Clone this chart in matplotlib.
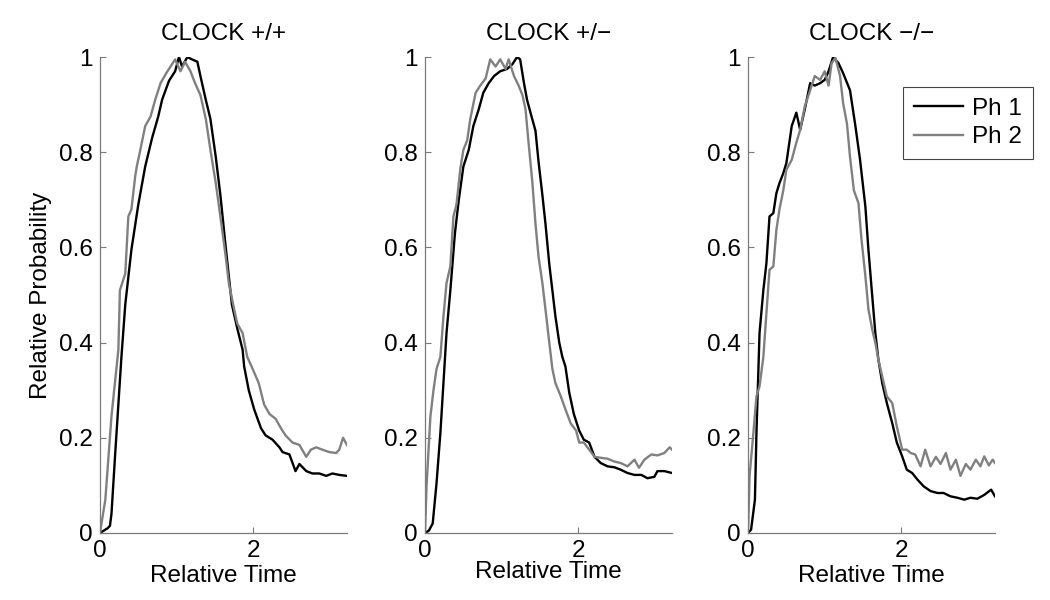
import matplotlib
matplotlib.use('Agg')
import matplotlib.pyplot as plt


titles = ['CLOCK +/+', 'CLOCK +/\u2212', 'CLOCK \u2212/\u2212']
series_names = ['Ph 1', 'Ph 2']

# CLOCK +/+
p1_ph1_x = [0, 0.05, 0.10, 0.13, 0.15, 0.20, 0.24, 0.28, 0.33, 0.41, 0.50, 0.59, 0.68, 0.76, 0.81,
            0.90, 0.98, 1.03, 1.07, 1.14, 1.20, 1.27, 1.31, 1.38, 1.44, 1.51, 1.57, 1.64, 1.68, 1.72,
            1.79, 1.86, 1.88, 1.94, 2.01, 2.10, 2.16, 2.25, 2.34, 2.38, 2.47, 2.55, 2.60, 2.69, 2.77,
            2.86, 2.95, 3.03, 3.12, 3.22]
p1_ph1_y = [0, 0.005, 0.01, 0.015, 0.04, 0.17, 0.27, 0.37, 0.48, 0.595, 0.69, 0.77, 0.83, 0.875, 0.91,
            0.95, 0.97, 1.0, 0.98, 1.0, 0.995, 0.99, 0.96, 0.91, 0.87, 0.79, 0.71, 0.60, 0.54, 0.48,
            0.43, 0.385, 0.35, 0.30, 0.26, 0.22, 0.205, 0.196, 0.18, 0.17, 0.165, 0.13, 0.145, 0.13, 0.125,
            0.125, 0.12, 0.125, 0.122, 0.12]
p1_ph2_x = [0, 0.07, 0.15, 0.24, 0.26, 0.33, 0.37, 0.41, 0.46, 0.48, 0.52, 0.59, 0.66, 0.72, 0.79,
            0.86, 0.92, 0.98, 1.05, 1.11, 1.18, 1.24, 1.31, 1.38, 1.44, 1.51, 1.57, 1.64, 1.68, 1.75,
            1.79, 1.86, 1.92, 1.99, 2.07, 2.14, 2.21, 2.29, 2.36, 2.42, 2.51, 2.60, 2.69, 2.75, 2.82,
            2.90, 2.99, 3.08, 3.12, 3.17, 3.22]
p1_ph2_y = [0, 0.07, 0.245, 0.385, 0.51, 0.545, 0.665, 0.68, 0.75, 0.77, 0.80, 0.855, 0.875, 0.91, 0.945,
            0.965, 0.98, 0.995, 0.97, 0.99, 0.97, 0.945, 0.92, 0.87, 0.805, 0.735, 0.665, 0.58, 0.525, 0.47,
            0.44, 0.42, 0.37, 0.345, 0.315, 0.27, 0.25, 0.24, 0.22, 0.205, 0.19, 0.185, 0.16, 0.175, 0.18,
            0.175, 0.17, 0.168, 0.175, 0.20, 0.185]

# CLOCK +/-
p2_ph1_x = [0, 0.05, 0.10, 0.15, 0.20, 0.24, 0.28, 0.33, 0.39, 0.44, 0.50, 0.57, 0.63, 0.70, 0.76,
            0.83, 0.90, 0.98, 1.07, 1.14, 1.20, 1.24, 1.29, 1.33, 1.38, 1.44, 1.48, 1.53, 1.57, 1.62,
            1.66, 1.70, 1.75, 1.79, 1.83, 1.88, 1.94, 2.01, 2.07, 2.14, 2.21, 2.29, 2.38, 2.47, 2.55,
            2.64, 2.73, 2.82, 2.90, 2.99, 3.03, 3.12, 3.22]
p2_ph1_y = [0, 0.005, 0.02, 0.105, 0.21, 0.315, 0.42, 0.51, 0.63, 0.70, 0.77, 0.805, 0.855, 0.89, 0.925,
            0.945, 0.96, 0.97, 0.975, 0.985, 1.0, 0.995, 0.945, 0.91, 0.88, 0.845, 0.78, 0.71, 0.65, 0.565,
            0.51, 0.455, 0.40, 0.37, 0.35, 0.295, 0.25, 0.215, 0.196, 0.19, 0.16, 0.147, 0.14, 0.138, 0.133,
            0.126, 0.122, 0.122, 0.115, 0.118, 0.13, 0.13, 0.126]
p2_ph2_x = [0, 0.02, 0.07, 0.11, 0.15, 0.20, 0.24, 0.28, 0.33, 0.37, 0.41, 0.46, 0.50, 0.55, 0.59,
            0.66, 0.72, 0.79, 0.85, 0.92, 0.98, 1.05, 1.09, 1.16, 1.22, 1.27, 1.31, 1.35, 1.40, 1.44,
            1.48, 1.53, 1.57, 1.62, 1.66, 1.70, 1.77, 1.83, 1.90, 1.97, 2.01, 2.07, 2.14, 2.21, 2.29,
            2.38, 2.47, 2.55, 2.64, 2.73, 2.79, 2.86, 2.95, 3.03, 3.12, 3.19, 3.22]
p2_ph2_y = [0, 0.10, 0.245, 0.30, 0.345, 0.37, 0.455, 0.525, 0.56, 0.665, 0.69, 0.765, 0.805, 0.825, 0.87,
            0.925, 0.94, 0.955, 0.995, 0.98, 0.995, 0.975, 0.995, 0.96, 0.94, 0.92, 0.89, 0.82, 0.735, 0.65,
            0.58, 0.525, 0.47, 0.40, 0.345, 0.315, 0.287, 0.26, 0.23, 0.215, 0.19, 0.19, 0.175, 0.16, 0.158,
            0.156, 0.15, 0.147, 0.14, 0.154, 0.137, 0.154, 0.165, 0.163, 0.168, 0.18, 0.175]

# CLOCK -/-
p3_ph1_x = [0, 0.04, 0.09, 0.11, 0.15, 0.20, 0.24, 0.28, 0.33, 0.37, 0.41, 0.46, 0.50, 0.57, 0.63,
            0.68, 0.74, 0.81, 0.87, 0.94, 1.00, 1.05, 1.11, 1.18, 1.24, 1.33, 1.40, 1.46, 1.53, 1.57,
            1.62, 1.66, 1.70, 1.75, 1.81, 1.88, 1.94, 2.01, 2.07, 2.14, 2.21, 2.29, 2.38, 2.47, 2.55,
            2.64, 2.73, 2.82, 2.90, 2.99, 3.08, 3.17, 3.22]
p3_ph1_y = [0, 0.007, 0.07, 0.21, 0.42, 0.51, 0.567, 0.665, 0.672, 0.714, 0.735, 0.756, 0.777, 0.855, 0.883,
            0.847, 0.89, 0.945, 0.94, 0.945, 0.952, 0.97, 1.0, 0.987, 0.966, 0.93, 0.855, 0.785, 0.686, 0.595,
            0.497, 0.42, 0.364, 0.315, 0.273, 0.231, 0.19, 0.161, 0.133, 0.126, 0.112, 0.098, 0.088, 0.084, 0.084,
            0.077, 0.074, 0.07, 0.074, 0.072, 0.08, 0.091, 0.077]
p3_ph2_x = [0, 0.02, 0.07, 0.11, 0.15, 0.20, 0.24, 0.28, 0.33, 0.37, 0.41, 0.46, 0.50, 0.57, 0.63,
            0.68, 0.74, 0.81, 0.87, 0.94, 1.00, 1.05, 1.09, 1.14, 1.20, 1.24, 1.29, 1.33, 1.38, 1.44,
            1.48, 1.53, 1.57, 1.62, 1.66, 1.70, 1.77, 1.81, 1.88, 1.94, 2.01, 2.07, 2.12, 2.18, 2.25,
            2.31, 2.38, 2.45, 2.51, 2.58, 2.64, 2.71, 2.77, 2.84, 2.90, 2.97, 3.03, 3.08, 3.14, 3.19,
            3.22]
p3_ph2_y = [0, 0.12, 0.21, 0.287, 0.308, 0.37, 0.462, 0.553, 0.56, 0.637, 0.68, 0.72, 0.763, 0.784, 0.82,
            0.847, 0.896, 0.93, 0.96, 0.952, 0.97, 0.94, 0.987, 0.998, 0.96, 0.903, 0.86, 0.79, 0.72, 0.693,
            0.616, 0.54, 0.47, 0.427, 0.40, 0.364, 0.315, 0.287, 0.273, 0.224, 0.175, 0.175, 0.168, 0.165, 0.14,
            0.175, 0.14, 0.16, 0.145, 0.168, 0.133, 0.154, 0.12, 0.145, 0.133, 0.154, 0.14, 0.161, 0.142, 0.154,
            0.147]

panels = [
    ((p1_ph1_x, p1_ph1_y), (p1_ph2_x, p1_ph2_y)),
    ((p2_ph1_x, p2_ph1_y), (p2_ph2_x, p2_ph2_y)),
    ((p3_ph1_x, p3_ph1_y), (p3_ph2_x, p3_ph2_y)),
]

y_ticks = [0, 0.2, 0.4, 0.6, 0.8, 1]
y_ticklabels = ['0', '0.2', '0.4', '0.6', '0.8', '1']
x_ticks = [0, 2]


def main():
    plt.rcParams['font.family'] = ['Liberation Sans', 'DejaVu Sans']
    fs = 17.5

    fig = plt.figure(figsize=(10.5, 6), dpi=100)
    lefts = [0.0952, 0.4048, 0.7124]
    xlabel_pads = [2, -1, 2]
    colors = ['black', '#808080']
    axis_color = '#7a7a7a'

    for i, (left, (ph1, ph2)) in enumerate(zip(lefts, panels)):
        ax = fig.add_axes([left, 0.1117, 0.2352, 0.7933])
        lines = []
        for (xs, ys), c in zip((ph1, ph2), colors):
            ln, = ax.plot(xs, ys, color=c, linewidth=1.7)
            lines.append(ln)
        ax.set_xlim(0, 3.22)
        ax.set_ylim(0, 1)
        ax.set_xticks(x_ticks)
        ax.set_yticks(y_ticks)
        ax.set_yticklabels(y_ticklabels)
        for s in ['top', 'right']:
            ax.spines[s].set_visible(False)
        for s in ['left', 'bottom']:
            ax.spines[s].set_color(axis_color)
            ax.spines[s].set_linewidth(0.9)
        ax.tick_params(direction='in', length=4, width=0.8, color=axis_color,
                       labelcolor='black', labelsize=fs)
        ax.tick_params(axis='x', pad=5)
        ax.tick_params(axis='y', pad=5)
        ax.set_title(titles[i], fontsize=fs, pad=12)
        ax.set_xlabel('Relative Time', fontsize=fs, labelpad=xlabel_pads[i])
        if i == 0:
            ax.set_ylabel('Relative Probability', fontsize=fs, labelpad=5)
        if i == 2:
            leg = ax.legend(lines, series_names, loc='upper right',
                            bbox_to_anchor=(0.984, 0.855), bbox_transform=fig.transFigure,
                            fancybox=False, framealpha=1, edgecolor='#444444',
                            handlelength=2.0, borderpad=0.45, labelspacing=0.25,
                            handletextpad=0.4, borderaxespad=0, fontsize=fs)
            leg.get_frame().set_linewidth(0.8)

    fig.savefig('out.png', dpi=100)


if __name__ == '__main__':
    main()
